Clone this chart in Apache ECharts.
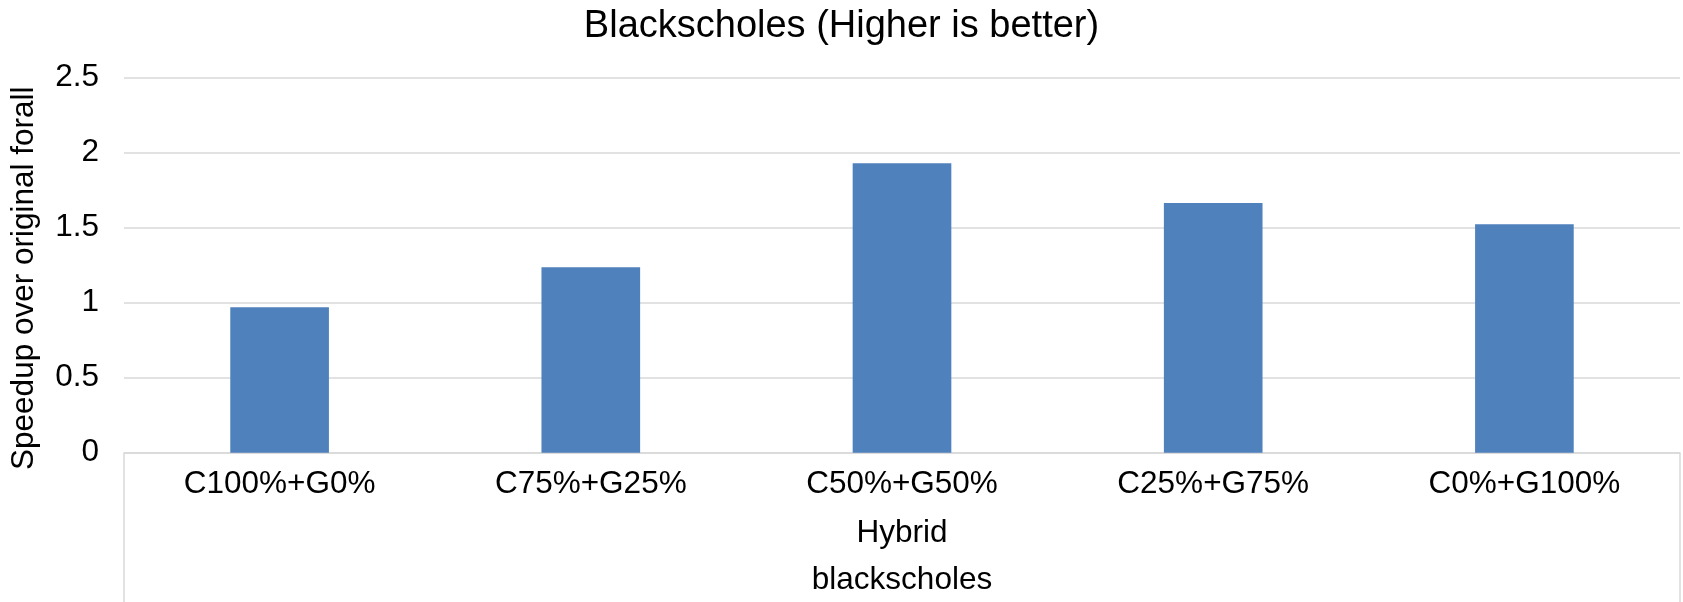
<!DOCTYPE html>
<html>
<head>
<meta charset="utf-8">
<script src="https://cdn.jsdelivr.net/npm/echarts@6/dist/echarts.min.js"></script>
<style>
html,body{margin:0;padding:0;background:#fff;}
#chart{width:1683px;height:602px;}
</style>
</head>
<body>
<div id="chart"></div>
<script>
const titleText = 'Blackscholes (Higher is better)';
const categories = ['C100%+G0%', 'C75%+G25%', 'C50%+G50%', 'C25%+G75%', 'C0%+G100%'];
const speedup = [0.97, 1.236, 1.93, 1.665, 1.523];
const groupLevel1 = ['Hybrid'];
const groupLevel2 = ['blackscholes'];
const yAxisName = 'Speedup over original forall';

const FONT = '"Liberation Sans", Arial, Helvetica, sans-serif';
const gridRect = {left: 124, right: 3, top: 77.7, bottom: 149.3};

const chart = echarts.init(document.getElementById('chart'));
chart.setOption({
  animation: false,
  backgroundColor: '#ffffff',
  title: {
    text: titleText,
    left: 'center',
    top: 3,
    textStyle: {fontFamily: FONT, fontSize: 38, fontWeight: 'normal', color: '#000'}
  },
  grid: [
    Object.assign({}, gridRect),
    Object.assign({}, gridRect),
    Object.assign({}, gridRect)
  ],
  xAxis: [
    {
      type: 'category', gridIndex: 0, data: categories,
      axisLine: {show: true, lineStyle: {color: '#d9d9d9', width: 1.5}},
      axisTick: {show: false},
      axisLabel: {fontFamily: FONT, fontSize: 31.5, color: '#000', margin: 16}
    },
    {
      type: 'category', gridIndex: 1, data: groupLevel1,
      axisLine: {show: false},
      axisTick: {show: true, length: 152, lineStyle: {color: '#d9d9d9', width: 1.5}},
      axisLabel: {fontFamily: FONT, fontSize: 31.5, color: '#000', margin: 65}
    },
    {
      type: 'category', gridIndex: 2, data: groupLevel2,
      axisLine: {show: false},
      axisTick: {show: false},
      axisLabel: {fontFamily: FONT, fontSize: 31.5, color: '#000', margin: 112}
    }
  ],
  yAxis: [
    {
      type: 'value', gridIndex: 0, min: 0, max: 2.5, interval: 0.5,
      name: yAxisName, nameLocation: 'middle', nameGap: 84,
      nameTextStyle: {fontFamily: FONT, fontSize: 31.5, color: '#000', padding: [0, 26, 0, 0]},
      axisLine: {show: false}, axisTick: {show: false},
      axisLabel: {fontFamily: FONT, fontSize: 31.5, color: '#000', margin: 25},
      splitLine: {show: true, lineStyle: {color: '#d9d9d9', width: 1.5}}
    },
    {type: 'value', gridIndex: 1, min: 0, max: 1, show: false},
    {type: 'value', gridIndex: 2, min: 0, max: 1, show: false}
  ],
  series: [{
    type: 'bar',
    xAxisIndex: 0, yAxisIndex: 0,
    data: speedup,
    barWidth: '31.7%',
    itemStyle: {color: '#4f81bd'}
  }]
});
</script>
</body>
</html>
